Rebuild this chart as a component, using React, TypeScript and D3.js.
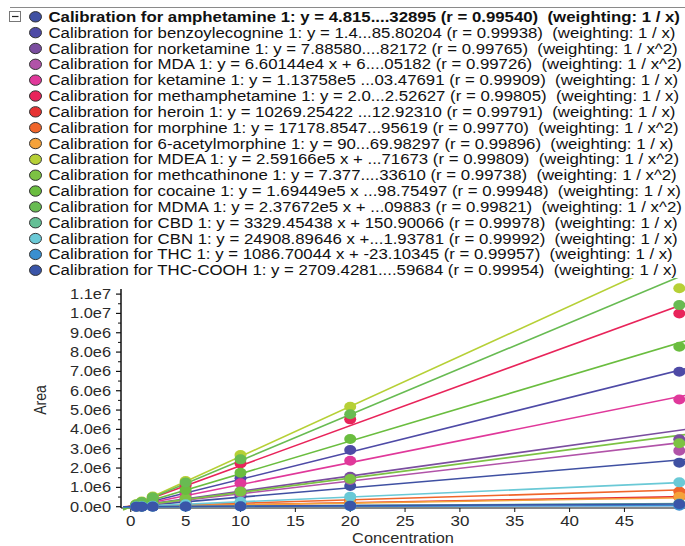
import React from "react";
import * as d3 from "d3";

const concentrations = [0.5, 1, 2, 5, 10, 20, 50];

const compounds = [
  "amphetamine", "benzoylecognine", "norketamine", "MDA", "ketamine",
  "methamphetamine", "heroin", "morphine", "6-acetylmorphine", "MDEA",
  "methcathinone", "cocaine", "MDMA", "CBD", "CBN", "THC", "THC-COOH",
];

const equations = [
  "y = 4.815....32895", "y = 1.4...85.80204", "y = 7.88580....82172",
  "y = 6.60144e4 x + 6....05182", "y = 1.13758e5 ...03.47691", "y = 2.0...2.52627",
  "y = 10269.25422 ...12.92310", "y = 17178.8547...95619", "y = 90...69.98297",
  "y = 2.59166e5 x + ...71673", "y = 7.377....33610", "y = 1.69449e5 x ...98.75497",
  "y = 2.37672e5 x + ...09883", "y = 3329.45438 x + 150.90066", "y = 24908.89646 x +...1.93781",
  "y = 1086.70044 x + -23.10345", "y = 2709.4281....59684",
];

const rValues = [
  "0.99540", "0.99938", "0.99765", "0.99726", "0.99909", "0.99805", "0.99791", "0.99770",
  "0.99896", "0.99809", "0.99738", "0.99948", "0.99821", "0.99978", "0.99992", "0.99957", "0.99954",
];

const weightings = [
  "1 / x", "1 / x", "1 / x^2", "1 / x^2", "1 / x", "1 / x", "1 / x", "1 / x^2",
  "1 / x", "1 / x^2", "1 / x^2", "1 / x", "1 / x^2", "1 / x", "1 / x", "1 / x", "1 / x",
];

const colors = [
  "#3f50a2", "#4e4aa6", "#7a4d9f", "#b153a8", "#e0389a", "#e8245a", "#e63232", "#f0652a",
  "#f5a23a", "#b6d036", "#7cc243", "#6abd3f", "#68bb52", "#64bf95", "#6ac9d6", "#3a8fd0", "#3a55a8",
];

const slopes = [
  48150, 141000, 78858, 66014.4, 113758, 207000, 10269.25, 17178.85,
  9050, 259166, 73770, 169449, 237672, 3329.45, 24908.9, 1086.7, 2709.43,
];

const intercepts = [
  12895, 5804, 8217, 6051, 3477, 52000, 1292, 9561,
  6998, 7167, 3361, 9875, 10988, 150.9, 1938, -23.1, 1596,
];

// peak areas at each concentration (0.5, 1, 2, 5, 10, 20, 50)
const areaByCompound = [
  [25000, 52000, 100000, 262000, 550000, 1070000, 2280000],
  [70000, 142000, 290000, 720000, 1470000, 2930000, 6980000],
  [40000, 81000, 160000, 410000, 800000, 1550000, 3490000],
  [34000, 69000, 132000, 350000, 700000, 1380000, 2900000],
  [58000, 118000, 232000, 600000, 1210000, 2380000, 5550000],
  [102000, 212000, 430000, 1100000, 2240000, 4520000, 10000000],
  [5200, 10300, 21000, 52000, 103000, 210000, 500000],
  [8600, 17500, 34000, 90000, 180000, 350000, 780000],
  [4700, 9200, 18500, 46000, 92000, 190000, 520000],
  [125000, 268000, 530000, 1330000, 2670000, 5170000, 11300000],
  [38000, 78000, 150000, 430000, 780000, 1430000, 3280000],
  [84000, 170000, 350000, 860000, 1760000, 3500000, 8280000],
  [112000, 240000, 490000, 1250000, 2450000, 4780000, 10430000],
  [1700, 3500, 6800, 17000, 33000, 67000, 166000],
  [12500, 25000, 50000, 130000, 250000, 520000, 1260000],
  [520, 1100, 2100, 5400, 11000, 22000, 54000],
  [1400, 2700, 5500, 14000, 27000, 54000, 135000],
];

const yTicks = [0, 1e6, 2e6, 3e6, 4e6, 5e6, 6e6, 7e6, 8e6, 9e6, 1e7, 1.1e7];
const yTickLabels = ["0.0e0", "1.0e6", "2.0e6", "3.0e6", "4.0e6", "5.0e6", "6.0e6", "7.0e6", "8.0e6", "9.0e6", "1.0e7", "1.1e7"];
const xTicks = [0, 5, 10, 15, 20, 25, 30, 35, 40, 45];

const SX = 1.17;
const FONT = "'Liberation Sans', Arial, sans-serif";

function SText(props: any) {
  const { x, y, anchor = "start", size = 14, weight = "normal", fill = "#1a1a1a", rotate = 0, children } = props;
  return (
    <text
      transform={`translate(${x},${y}) scale(${SX},1) rotate(${rotate})`}
      textAnchor={anchor}
      dy="0.35em"
      fontSize={size}
      fontWeight={weight}
      fontFamily={FONT}
      fill={fill}
      style={{ whiteSpace: "pre" }}
    >
      {children}
    </text>
  );
}

export default function App() {
  const W = 685;
  const H = 546;
  const x = d3.scaleLinear().domain([0, 50]).range([130.8, 679.3]);
  const y = d3.scaleLinear().domain([0, 11e6]).range([506.7, 294.1]);
  const axisX = 121;
  const axisY = 508;
  const clipTop = 278;

  const legendY0 = 16.8;
  const legendStep = 15.84;

  const minorY = d3.range(0, 11e6 + 1, 5e5).filter((v) => v % 1e6 !== 0);

  return (
    <svg width={W} height={H} style={{ position: "absolute", left: 0, top: 0, background: "#fff" }}>
      <defs>
        <clipPath id="plotClip">
          <rect x={axisX} y={clipTop} width={W - axisX} height={axisY + 8 - clipTop} />
        </clipPath>
      </defs>
      <rect x={0} y={0} width={W} height={H} fill="#fff" />

      {/* legend */}
      <line x1={10} x2={W} y1={7.5} y2={7.5} stroke="#8a8a8a" strokeWidth={1} />
      <rect x={9.5} y={11.5} width={11} height={10} fill="#fff" stroke="#777" strokeWidth={1} />
      <line x1={12} x2={18.5} y1={16.5} y2={16.5} stroke="#222" strokeWidth={1.2} />
      {compounds.map((name, i) => {
        const cy = legendY0 + i * legendStep;
        return (
          <g key={name}>
            <ellipse cx={35.5} cy={cy} rx={6} ry={5.2} fill={colors[i]} stroke="#333" strokeWidth={1} />
            <SText x={48.5} y={cy} size={14.35} weight={i === 0 ? "bold" : "normal"} fill="#111">
              {`Calibration for ${name} 1: ${equations[i]} (r = ${rValues[i]})  (weighting: ${weightings[i]})`}
            </SText>
          </g>
        );
      })}

      {/* axes */}
      <line x1={axisX} x2={axisX} y1={289} y2={axisY} stroke="#111" strokeWidth={1.5} />
      <line x1={axisX} x2={W} y1={axisY} y2={axisY} stroke="#111" strokeWidth={1.2} />
      {yTicks.map((v, i) => (
        <g key={"yt" + i}>
          <line x1={axisX - 5} x2={axisX} y1={y(v)} y2={y(v)} stroke="#111" strokeWidth={1.2} />
          <SText x={111} y={y(v)} anchor="end" fill="#2a2a2a">
            {yTickLabels[i]}
          </SText>
        </g>
      ))}
      {minorY.map((v, i) => (
        <line key={"ym" + i} x1={axisX - 3} x2={axisX} y1={y(v)} y2={y(v)} stroke="#111" strokeWidth={1} />
      ))}
      {xTicks.map((v) => (
        <g key={"xt" + v}>
          <line x1={x(v)} x2={x(v)} y1={axisY} y2={axisY + 4} stroke="#111" strokeWidth={1} />
          <SText x={x(v)} y={520.5} anchor="middle" fill="#2a2a2a" size={14.5}>
            {String(v)}
          </SText>
        </g>
      ))}
      <SText x={403} y={538.5} anchor="middle" fill="#2a2a2a">
        Concentration
      </SText>
      <SText x={40} y={400} anchor="middle" fill="#2a2a2a" rotate={-90}>
        Area
      </SText>

      {/* series */}
      <g clipPath="url(#plotClip)">
        {compounds.map((name, i) => {
          const c0 = -0.7;
          const c1 = 51;
          return (
            <line
              key={"l" + name}
              x1={x(c0)}
              y1={y(slopes[i] * c0 + intercepts[i])}
              x2={x(c1)}
              y2={y(slopes[i] * c1 + intercepts[i])}
              stroke={colors[i]}
              strokeWidth={1.6}
            />
          );
        })}
        {compounds.map((name, i) => (
          <g key={"p" + name}>
            {areaByCompound[i].map((a, j) => (
              <ellipse key={j} cx={x(concentrations[j])} cy={y(a)} rx={6} ry={5} fill={colors[i]} />
            ))}
          </g>
        ))}
      </g>
    </svg>
  );
}
